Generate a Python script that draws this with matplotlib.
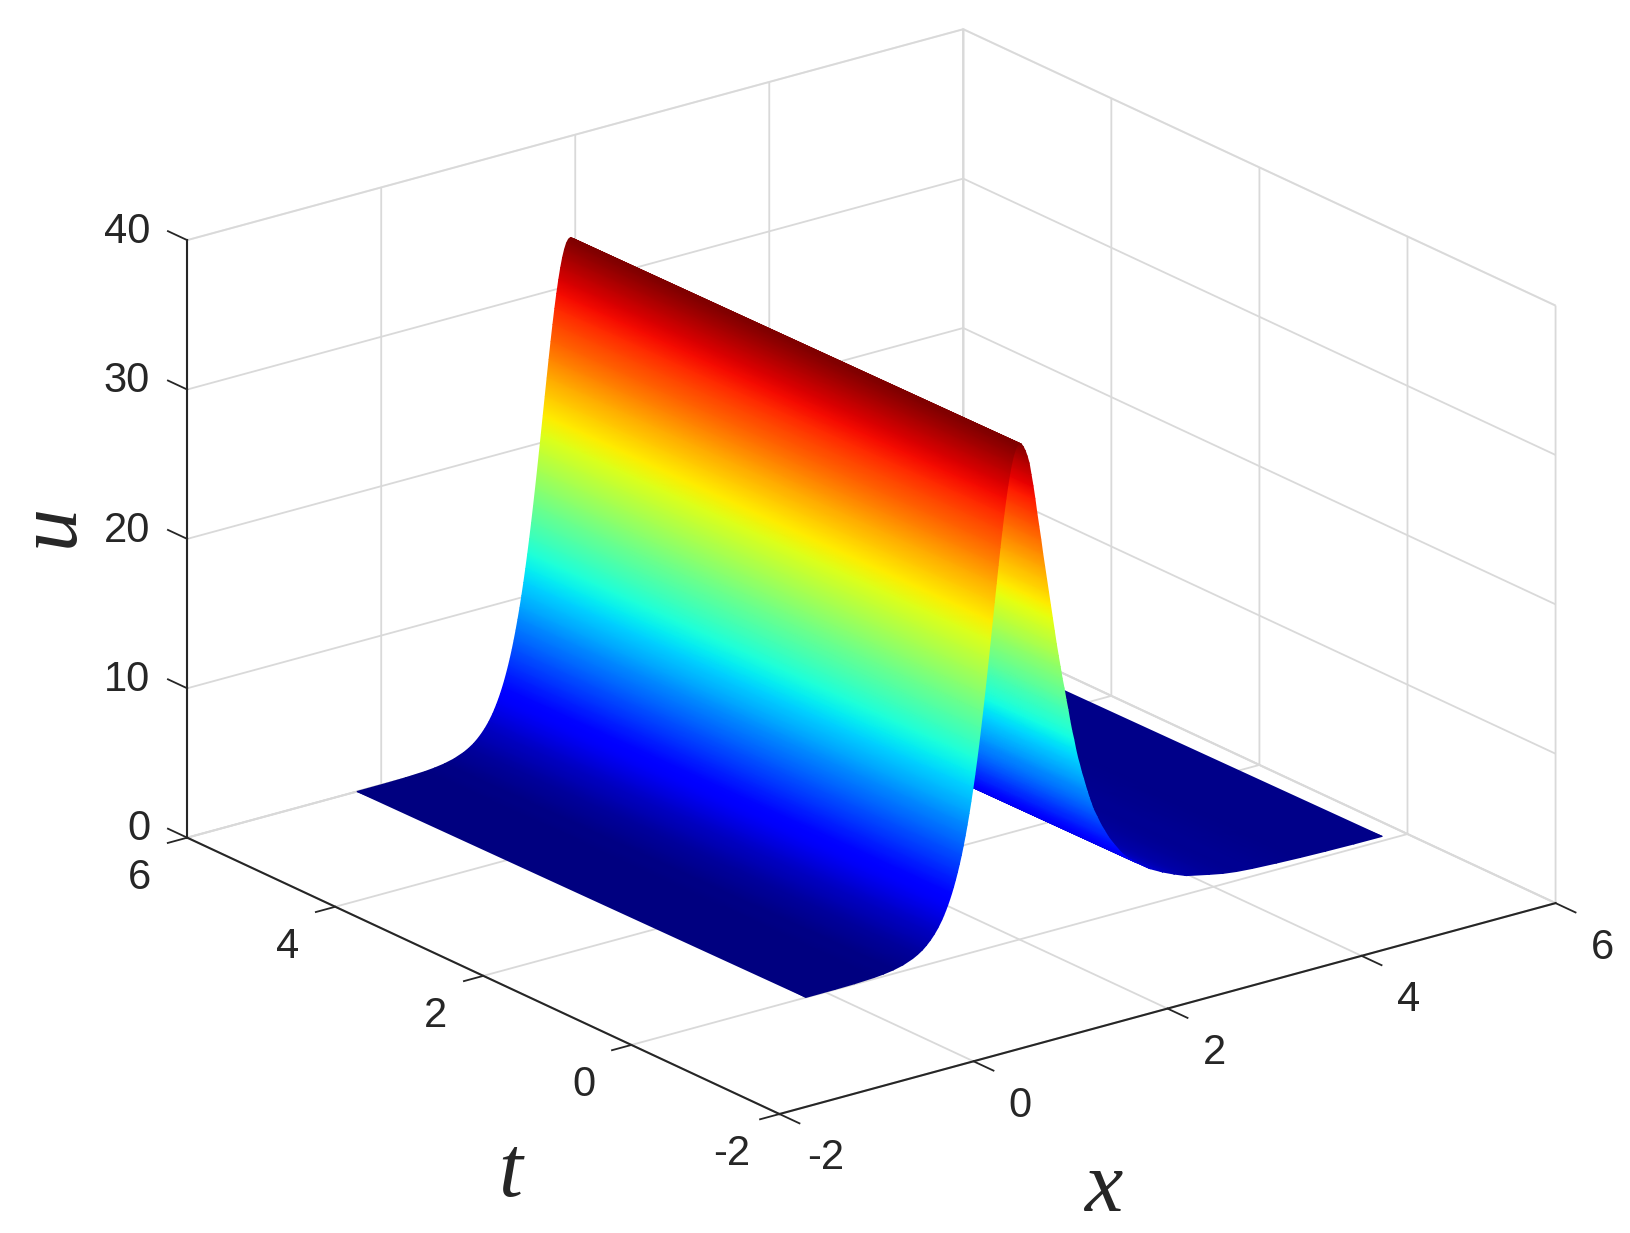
import matplotlib
matplotlib.use('Agg')

import matplotlib.pyplot as plt
import numpy as np
from mpl_toolkits.mplot3d import proj3d

# profile: distance from the crest and height u
crest_x = 2.0
crest_drift = -0.05  # ridge sits this much further left at t=6 than at t=0
dist_left = [0, .02, .04, .06, .08, .10, .12, .14, .16, .18, .20, .22, .24, .26, .28, .30,
             .32, .34, .36, .38, .40, .42, .44, .46, .48, .50, .52, .54, .56, .58, .60,
             .62, .64, .66, .68, .70, .72, .74, .76, .78, .80, .84, .88, .92, .96, 1.00,
             1.05, 1.10, 1.20, 1.30, 1.40, 1.50, 1.70, 1.90, 2.20]
u_left = [33.2, 33.12, 32.90, 32.52, 32.01, 31.36, 30.59, 29.72, 28.75, 27.70, 26.59, 25.43,
          24.23, 23.01, 21.79, 20.56, 19.36, 18.17, 17.01, 15.89, 14.81, 13.77, 12.79, 11.85,
          10.96, 10.13, 9.34, 8.61, 7.92, 7.28, 6.68, 6.13, 5.62, 5.15, 4.71, 4.31, 3.94,
          3.60, 3.29, 3.00, 2.73, 2.27, 1.89, 1.57, 1.30, 1.07, .85, .67, .415, .258, .16,
          .099, .038, .015, .0034]
# right flank is broader and its tail does not reach zero
dist_right = [.02, .04, .06, .08, .10, .12, .14, .16, .18, .20, .22, .24, .26, .28, .30,
              .32, .34, .36, .38, .40, .42, .44, .46, .48, .50, .52, .54, .56, .58, .60,
              .62, .64, .66, .68, .70, .72, .74, .76, .80, .84, .88, .92, .97, 1.05, 1.12,
              1.21, 1.35, 1.48, 1.60, 1.72, 1.96, 2.10, 2.24, 2.40, 2.65, 2.90, 3.16, 3.45, 3.74]
u_right = [33.12, 32.9, 32.6, 32.2, 31.7, 30.9, 30.1, 29.2, 28.2, 27.3, 26.4, 25.4, 24.5, 23.6,
           22.7, 21.8, 20.9, 20.0, 19.1, 18.3, 17.5, 16.7, 16.0, 15.2, 14.5, 13.7, 13.0, 12.4,
           11.7, 11.1, 10.6, 10.05, 9.6, 9.1, 8.65, 8.2, 7.8, 7.4, 6.8, 6.2, 5.7, 5.2, 4.7,
           3.95, 3.45, 3.0, 2.35, 1.9, 1.55, 1.24, .9, .72, .6, .52, .44, .38, .34, .31, .3]
t_range = [0, 6]

x_ticks = [-2, 0, 2, 4, 6]
t_ticks = [-2, 0, 2, 4, 6]
u_ticks = [0, 10, 20, 30, 40]

x_vals = np.array([crest_x - d for d in dist_left[::-1]] + [crest_x + d for d in dist_right])
u_vals = np.array(u_left[::-1] + u_right)

TICK_COL = '#262626'
GRID_COL = '#d9d9d9'
SANS = 'Liberation Sans'
FS = 30

fig = plt.figure(figsize=(16.31, 12.33), dpi=100, facecolor='white')
rect = [363 / 1631, 153 / 1233, 990 / 1631, 990 / 1233]
ax = fig.add_axes(rect, projection='3d')
ax.set_proj_type('ortho')
ax.view_init(elev=20.86, azim=-127.35)
ax.set_box_aspect((1, 1, 0.655), zoom=1.492)
ax.computed_zorder = False

ax.set_xlim(-2, 6, view_margin=0)
ax.set_ylim(-2, 6, view_margin=0)
ax.set_zlim(0, 40, view_margin=0)
ax.set_xticks(x_ticks)
ax.set_yticks(t_ticks)
ax.set_zticks(u_ticks)
ax.set_xticklabels([])
ax.set_yticklabels([])
ax.set_zticklabels([])

for axis in (ax.xaxis, ax.yaxis, ax.zaxis):
    axis.pane.set_facecolor('white')
    axis.pane.set_edgecolor(GRID_COL)
    axis.pane.set_linewidth(1.4)
    axis.line.set_color(TICK_COL)
    axis.line.set_linewidth(1.5)
    axis._axinfo['grid'].update(color=GRID_COL, linewidth=1.3, linestyle='-')
    axis._axinfo['tick'].update(inward_factor=0, outward_factor=0)

# tick marks point out of the box, not where mplot3d would put them
for v in x_ticks:
    ax.plot([v, v], [-2, -2.27], [0, 0], color=TICK_COL, lw=1.3, clip_on=False)
for v in t_ticks:
    ax.plot([-2, -2.2], [v, v], [0, 0], color=TICK_COL, lw=1.3, clip_on=False)
for v in u_ticks:
    ax.plot([-2, -2], [6, 6.26], [v, v], color=TICK_COL, lw=1.3, clip_on=False)

for v in x_ticks:
    ax.text(v, -2.63, -1.52, str(v), fontsize=FS, family=SANS, color=TICK_COL,
            ha='center', va='center')
for v in t_ticks:
    ax.text(-2.49, v, -1.82, str(v), fontsize=FS, family=SANS, color=TICK_COL,
            ha='center', va='center')
for v in u_ticks:
    ax.text(-2, 6.5, v - 0.6, str(v), fontsize=FS, family=SANS, color=TICK_COL,
            ha='right', va='center')

# surface goes on a 2d overlay so gouraud can blend colours between the read values.
# far strips first, smaller x is always nearer the viewer in this view
ov = fig.add_axes(rect, facecolor='none')
ov.set_xlim(ax.viewLim.intervalx)
ov.set_ylim(ax.viewLim.intervaly)
ov.axis('off')
M = ax.get_proj()
for i in range(len(x_vals) - 2, -1, -1):
    xx = np.array([[x_vals[i], x_vals[i + 1]],
                   [x_vals[i] + crest_drift, x_vals[i + 1] + crest_drift]])
    tt = np.array([[t_range[0], t_range[0]], [t_range[1], t_range[1]]])
    uu = np.array([[u_vals[i], u_vals[i + 1]], [u_vals[i], u_vals[i + 1]]])
    px, py, _ = proj3d.proj_transform(xx.ravel(), tt.ravel(), uu.ravel(), M)
    ov.pcolormesh(np.reshape(px, (2, 2)), np.reshape(py, (2, 2)), uu, shading='gouraud',
                  cmap='jet', vmin=0, vmax=max(u_vals), clip_on=False)

fig.text(52 / 1631, 1 - 525 / 1233, 'u', fontsize=62, family='Liberation Serif', style='italic',
         rotation=90, ha='center', va='center', color=TICK_COL)
fig.text(510 / 1631, 1 - 1175 / 1233, 't', fontsize=62, family='Liberation Serif', style='italic',
         ha='center', va='center', color=TICK_COL)
fig.text(1103 / 1631, 1 - 1190 / 1233, 'x', fontsize=62, family='Liberation Serif', style='italic',
         ha='center', va='center', color=TICK_COL)

fig.savefig('out.png', dpi=100)
